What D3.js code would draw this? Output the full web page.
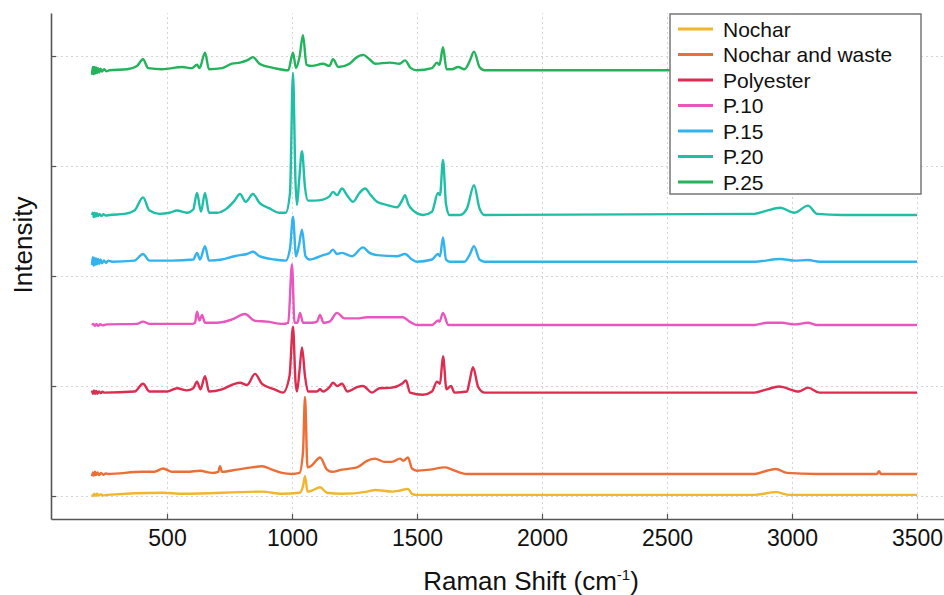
<!DOCTYPE html>
<html>
<head>
<meta charset="utf-8">
<script src="https://cdn.jsdelivr.net/npm/d3@7"></script>
<style>
  html, body { margin: 0; padding: 0; background: #fff; }
  svg { display: block; font-family: "Liberation Sans", Arial, sans-serif; }
</style>
</head>
<body>
<div id="chart"></div>
<script>
// Raman spectra, stacked with a vertical offset per sample.
// Points are [wavenumber (cm-1), intensity above the sample baseline].

const seriesNames = ["Nochar", "Nochar and waste", "Polyester", "P.10", "P.15", "P.20", "P.25"];
const seriesOffsets = [0.01, 0.20, 0.94, 1.555, 2.13, 2.555, 3.87];
const xTicks = [500, 1000, 1500, 2000, 2500, 3000, 3500];
const yTicks = [0, 1, 2, 3, 4];

const nocharPts = [
  [200, 0.005], [204, -0.01], [209, 0.01], [214, -0.008], [220, 0.01], [227, -0.006], [235, 0.005],
  [245, -0.004], [260, 0], [484, 0.02], [560, 0.01],
  [880, 0.03], [960, 0.01], [1030, 0.02], [1044, 0.08], [1052, 0.17], [1062, 0.03], [1080, 0.04],
  [1112, 0.07], [1140, 0.02], [1200, 0.01], [1300, 0.03], [1332, 0.045], [1400, 0.03], [1432, 0.04],
  [1464, 0.055], [1480, 0.01], [1500, 0], [2850, 0], [2936, 0.025], [2990, 0], [3500, 0]
];

const wastePts = [
  [200, -0.02], [204, 0.015], [208, -0.015], [212, 0.02], [216, -0.01], [222, 0.015], [228, -0.01],
  [236, 0.01], [245, -0.008], [255, 0.005], [265, 0], [400, 0.02],
  [450, 0.02], [484, 0.05], [520, 0.02], [580, 0.02], [632, 0.03], [680, 0.01], [705, 0.02],
  [712, 0.07], [720, 0.02], [780, 0.04], [840, 0.06], [880, 0.07], [920, 0.04], [960, 0.01],
  [1000, 0], [1030, 0.01], [1044, 0.2], [1052, 0.7], [1062, 0.06], [1080, 0.08], [1112, 0.15],
  [1140, 0.04], [1160, 0.02], [1200, 0.04], [1260, 0.06], [1300, 0.12], [1332, 0.14], [1370, 0.11],
  [1400, 0.11], [1432, 0.14], [1445, 0.12], [1464, 0.15], [1480, 0.05], [1500, 0.03], [1550, 0.04],
  [1612, 0.06], [1640, 0.04], [1700, 0], [2850, 0], [2900, 0.03], [2936, 0.045], [2980, 0.01],
  [3100, 0], [3340, 0], [3348, 0.025], [3356, 0], [3500, 0]
];

const polyesterPts = [
  [200, 0.02], [204, -0.01], [208, 0.02], [212, -0.01], [217, 0.015], [222, -0.01], [228, 0.01],
  [235, -0.005], [242, 0.008], [250, 0], [370, 0.01],
  [404, 0.08], [430, 0.01], [500, 0.01], [540, 0.04], [580, 0.02], [605, 0.04], [620, 0.1],
  [634, 0.03], [652, 0.15], [668, 0.01], [720, 0.03], [770, 0.08], [792, 0.09], [820, 0.07],
  [852, 0.17], [880, 0.08], [930, 0.03], [964, 0], [990, 0.15], [1004, 0.6], [1014, 0.1],
  [1020, 0.01], [1030, 0.2], [1040, 0.41], [1052, 0.15], [1064, 0.01], [1100, 0.01], [1112, 0.03],
  [1124, 0.01], [1150, 0.05], [1164, 0.09], [1180, 0.06], [1200, 0.08], [1222, 0.01], [1260, 0.05],
  [1284, 0.06], [1320, 0], [1350, 0.04], [1400, 0.045], [1440, 0.08], [1456, 0.11], [1472, 0],
  [1524, -0.02], [1560, 0.01], [1580, 0.1], [1592, 0.08], [1604, 0.33], [1618, 0.03], [1636, 0.06],
  [1650, 0], [1700, 0.01], [1710, 0.1], [1724, 0.23], [1745, 0.05], [1770, 0], [2850, 0],
  [2900, 0.03], [2948, 0.055], [3028, 0.01], [3064, 0.045], [3110, 0], [3500, 0]
];

const p10Pts = [
  [200, 0], [206, 0.01], [212, -0.008], [218, 0.01], [225, -0.008], [233, 0.006], [242, -0.004],
  [260, 0.005], [380, 0.01], [404, 0.03], [430, 0.01],
  [600, 0.01], [612, 0.02], [620, 0.12], [630, 0.04], [640, 0.09], [652, 0.02], [700, 0.02],
  [760, 0.05], [812, 0.1], [850, 0.04], [900, 0.03], [960, 0.01], [985, 0.02], [1000, 0.55],
  [1010, 0.02], [1022, 0.02], [1032, 0.11], [1044, 0.02], [1080, 0.02], [1100, 0.03], [1112, 0.09],
  [1126, 0.02], [1150, 0.03], [1180, 0.11], [1210, 0.06], [1260, 0.06], [1300, 0.07], [1380, 0.07],
  [1444, 0.07], [1470, 0.03], [1500, 0], [1560, 0], [1584, 0.04], [1590, 0.03], [1604, 0.11],
  [1625, 0], [2850, 0], [2900, 0.02], [2960, 0.02], [3010, 0.005], [3064, 0.02], [3100, 0], [3500, 0]
];

const p15Pts = [
  [200, -0.03], [203, 0.04], [206, -0.035], [209, 0.035], [212, -0.03], [216, 0.03], [220, -0.025],
  [224, 0.025], [229, -0.02], [234, 0.02], [240, -0.015], [248, 0.012], [256, -0.01],
  [265, 0.01], [280, 0], [370, 0.01], [404, 0.07], [430, 0.01], [520, 0.01], [605, 0.02], [620, 0.08],
  [632, 0.02], [652, 0.14], [668, 0.01], [720, 0.02], [770, 0.05], [792, 0.06], [820, 0.07],
  [844, 0.09], [870, 0.05], [930, 0.02], [975, 0.01], [992, 0.12], [1004, 0.41], [1016, 0.05],
  [1028, 0.15], [1040, 0.29], [1054, 0.05], [1070, 0.02], [1124, 0.06], [1150, 0.08], [1164, 0.11],
  [1180, 0.07], [1200, 0.08], [1240, 0.05], [1284, 0.13], [1310, 0.08], [1340, 0.06], [1420, 0.05],
  [1452, 0.07], [1480, 0.02], [1500, 0], [1560, 0.02], [1584, 0.07], [1592, 0.05], [1604, 0.22],
  [1616, 0.02], [1630, 0], [1690, 0], [1710, 0.06], [1728, 0.14], [1750, 0.02], [1770, 0],
  [2850, 0], [2952, 0.025], [3010, 0.01], [3064, 0.015], [3110, 0], [3500, 0]
];

const p20Pts = [
  [200, 0], [203, 0.02], [207, -0.02], [211, 0.02], [215, -0.015], [219, 0.015], [224, -0.01],
  [230, 0.01], [237, -0.01], [245, 0.008], [255, -0.005], [270, 0], [330, 0.01], [370, 0.04],
  [404, 0.16], [430, 0.04], [470, 0.01],
  [510, 0.02], [540, 0.04], [580, 0.02], [605, 0.05], [620, 0.2], [636, 0.03], [652, 0.2],
  [668, 0.02], [700, 0.02], [740, 0.06], [770, 0.13], [792, 0.19], [815, 0.12], [844, 0.19],
  [870, 0.11], [910, 0.06], [950, 0.02], [975, 0.02], [992, 0.2], [1004, 1.29], [1014, 0.3],
  [1020, 0.09], [1028, 0.3], [1040, 0.58], [1052, 0.25], [1064, 0.13], [1090, 0.13], [1124, 0.14],
  [1150, 0.17], [1164, 0.21], [1180, 0.18], [1200, 0.24], [1220, 0.18], [1244, 0.12], [1270, 0.2],
  [1292, 0.24], [1315, 0.18], [1340, 0.12], [1380, 0.09], [1420, 0.07], [1440, 0.13], [1452, 0.18],
  [1465, 0.1], [1480, 0.05], [1524, 0], [1560, 0.03], [1584, 0.2], [1592, 0.18], [1604, 0.5],
  [1616, 0.1], [1630, 0], [1672, 0], [1700, 0.06], [1728, 0.27], [1750, 0.06], [1770, 0],
  [2850, 0.01], [2900, 0.04], [2952, 0.065], [3010, 0.02], [3064, 0.085], [3100, 0.01],
  [3200, 0], [3500, 0]
];

const p25Pts = [
  [200, -0.04], [203, 0.03], [206, -0.035], [209, 0.03], [212, -0.03], [216, 0.025], [220, -0.025],
  [224, 0.02], [229, -0.02], [234, 0.015], [240, -0.012], [248, 0.01], [258, -0.008],
  [270, 0], [340, 0.01], [380, 0.04], [404, 0.1], [425, 0.02], [480, 0.01], [560, 0.03],
  [600, 0.02], [620, 0.05], [630, 0.02], [652, 0.16], [668, 0.01], [720, 0.02], [760, 0.06],
  [792, 0.07], [820, 0.09], [844, 0.12], [870, 0.06], [930, 0.02], [985, 0], [1004, 0.16],
  [1016, 0.02], [1030, 0.12], [1044, 0.32], [1058, 0.05], [1080, 0.04], [1124, 0.06], [1150, 0.04],
  [1164, 0.1], [1186, 0.03], [1230, 0.06], [1260, 0.12], [1284, 0.14], [1310, 0.1], [1332, 0.06],
  [1392, 0.07], [1430, 0.06], [1452, 0.09], [1475, 0.02], [1500, 0], [1560, 0.02], [1580, 0.07],
  [1590, 0.05], [1604, 0.21], [1618, 0.01], [1640, 0.01], [1664, 0.03], [1690, 0.01], [1710, 0.08],
  [1728, 0.17], [1750, 0.03], [1770, 0], [3500, 0]
];

const seriesPoints = [nocharPts, wastePts, polyesterPts, p10Pts, p15Pts, p20Pts, p25Pts];
const COLORS = ["#f2b62c", "#ec6e37", "#dc2c50", "#e957be", "#33b3ee", "#1fbfa7", "#22b35b"];

const W = 944, H = 595;
const margin = { left: 51, top: 13, right: 0, bottom: 76 };

const svg = d3.select("#chart").append("svg")
  .attr("width", W).attr("height", H)
  .attr("viewBox", `0 0 ${W} ${H}`);

const x = d3.scaleLinear().domain([36, 3608]).range([margin.left, W - margin.right]);
const y = d3.scaleLinear().domain([-0.209, 4.391]).range([H - margin.bottom, margin.top]);

// gridlines (dotted)
const grid = svg.append("g").attr("class", "grid");
grid.append("g")
  .attr("transform", `translate(0,${H - margin.bottom})`)
  .call(d3.axisBottom(x).tickValues(xTicks).tickSize(-(H - margin.bottom - margin.top)).tickFormat(""))
  .call(g => g.select(".domain").remove());
grid.append("g")
  .attr("transform", `translate(${margin.left},0)`)
  .call(d3.axisLeft(y).tickValues(yTicks).tickSize(-(W - margin.left - margin.right)).tickFormat(""))
  .call(g => g.select(".domain").remove());
grid.selectAll("line")
  .attr("stroke", "#d4d4d4")
  .attr("stroke-width", 1)
  .attr("stroke-dasharray", "2,3");

// spectra
const line = d3.line()
  .x(d => x(d[0]))
  .y(d => y(d[1]))
  .curve(d3.curveMonotoneX);

svg.append("g").selectAll("path")
  .data(seriesPoints.map((pts, i) => pts.map(p => [p[0], p[1] + seriesOffsets[i]])))
  .join("path")
  .attr("fill", "none")
  .attr("stroke", (d, i) => COLORS[i])
  .attr("stroke-width", 2.4)
  .attr("stroke-linejoin", "round")
  .attr("d", line);

// axes
const xAxisG = svg.append("g")
  .attr("transform", `translate(0,${H - margin.bottom})`)
  .call(d3.axisBottom(x).tickValues(xTicks).tickFormat(d3.format("d"))
    .tickSizeInner(-5).tickSizeOuter(0).tickPadding(11));
const yAxisG = svg.append("g")
  .attr("transform", `translate(${margin.left},0)`)
  .call(d3.axisLeft(y).tickValues(yTicks).tickSizeInner(-5).tickSizeOuter(0).tickFormat(""));

[xAxisG, yAxisG].forEach(g => {
  g.select(".domain").attr("stroke", "#555").attr("stroke-width", 1.6);
  g.selectAll(".tick line").attr("stroke", "#555").attr("stroke-width", 1.2);
});
xAxisG.selectAll(".tick text")
  .attr("fill", "#111")
  .style("font-size", "23px")
  .style("font-family", "'Liberation Sans', Arial, sans-serif");

// axis titles
const xTitle = svg.append("text")
  .attr("x", 531).attr("y", 590)
  .attr("text-anchor", "middle")
  .style("font-size", "26px")
  .attr("fill", "#111")
  .text("Raman Shift (cm");
xTitle.append("tspan").attr("dy", -10).style("font-size", "15px").text("-1");
xTitle.append("tspan").attr("dy", 10).text(")");

svg.append("text")
  .attr("transform", `translate(32,245) rotate(-90)`)
  .attr("text-anchor", "middle")
  .style("font-size", "26px")
  .attr("fill", "#111")
  .text("Intensity");

// legend
const legend = svg.append("g").attr("transform", "translate(670,14)");
legend.append("rect")
  .attr("width", 251).attr("height", 180)
  .attr("fill", "#fff")
  .attr("stroke", "#777")
  .attr("stroke-width", 1.5);
const rows = legend.selectAll("g.row")
  .data(seriesNames)
  .join("g")
  .attr("class", "row")
  .attr("transform", (d, i) => `translate(0,${15 + i * 25.5})`);
rows.append("line")
  .attr("x1", 8).attr("x2", 43)
  .attr("stroke", (d, i) => COLORS[i])
  .attr("stroke-width", 3);
rows.append("text")
  .attr("x", 53).attr("dy", "0.36em")
  .style("font-size", "21px")
  .attr("fill", "#111")
  .text(d => d);
</script>
</body>
</html>
